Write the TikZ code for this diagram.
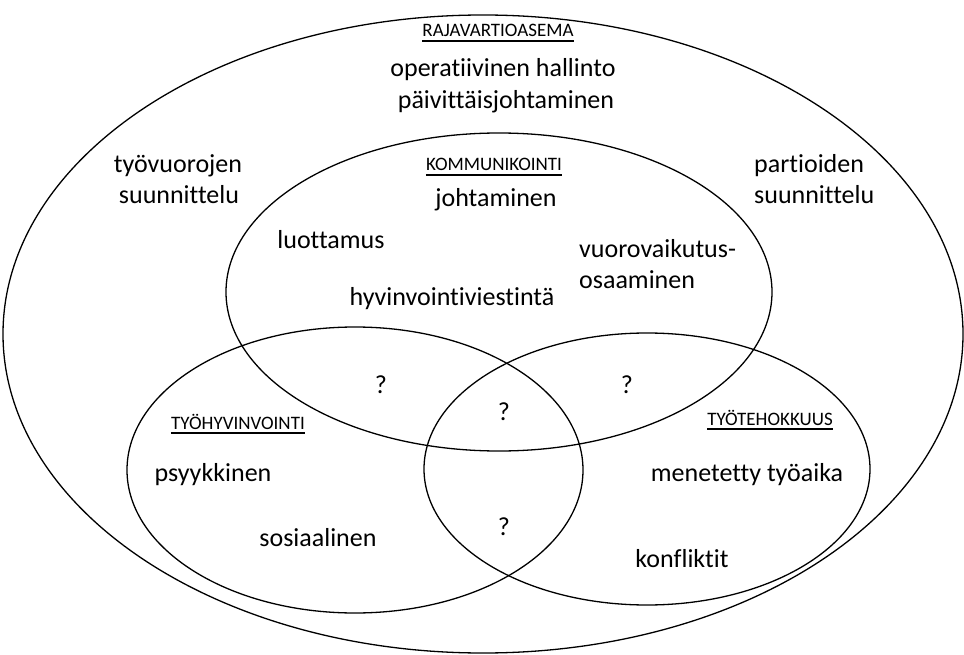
\documentclass[tikz,border=0pt]{standalone}
\usepackage{fontspec}
\setmainfont{Carlito}[Ligatures={NoCommon,NoContextual}]
\usetikzlibrary{shapes.geometric}

\tikzset{
  ring/.style={draw=black, line width=1.3pt, ellipse, inner sep=0pt},
  label/.style={inner sep=0pt, font=\fontsize{26}{30}\selectfont},
  heading/.style={inner sep=0pt, font=\fontsize{19}{22}\selectfont},
  rule/.style={line width=1.3pt}
}

\begin{document}
\begin{tikzpicture}[x=1pt,y=-1pt]
\useasboundingbox (0,0) rectangle (964,655);

% the four sets
\node[ring, minimum width=960pt, minimum height=638pt] (station) at (483,334) {};
\node[ring, minimum width=546pt, minimum height=318pt] (comm) at (499,292) {};
\node[ring, minimum width=456pt, minimum height=286pt] (wellbeing) at (355,470) {};
\node[ring, minimum width=446pt, minimum height=272pt] (efficiency) at (647,469) {};

% outer set: border station
\node[heading, anchor=base] (hStation) at (498,37) {RAJAVARTIOASEMA};
\draw[rule] ([yshift=-4pt]hStation.base west) -- ([yshift=-4pt]hStation.base east);
\node[label, anchor=base] (opHallinto) at (503,77) {operatiivinen hallinto};
\node[label, anchor=base] (paivittais) at (506,109) {päivittäisjohtaminen};
\node[label, anchor=base] (tyovuorojen) at (178,173) {työvuorojen};
\node[label, anchor=base] (suunnL) at (179,204) {suunnittelu};
\node[label, anchor=base west] (partioiden) at (754,173) {partioiden};
\node[label, anchor=base west] (suunnR) at (754,204) {suunnittelu};

% communication
\node[heading, anchor=base] (hComm) at (494,171) {KOMMUNIKOINTI};
\draw[rule] ([yshift=-4pt]hComm.base west) -- ([yshift=-4pt]hComm.base east);
\node[label, anchor=base] (johtaminen) at (496,207) {johtaminen};
\node[label, anchor=base] (luottamus) at (331,249) {luottamus};
\node[label, anchor=base west] (vuoro) at (579,258) {vuorovaikutus-};
\node[label, anchor=base west] (osaaminen) at (579,288) {osaaminen};
\node[label, anchor=base] (hyvinvointi) at (452,305) {hyvinvointiviestintä};

% intersections
\node[label, anchor=base] (q1) at (381,393) {?};
\node[label, anchor=base] (q2) at (504,420) {?};
\node[label, anchor=base] (q3) at (627,393) {?};
\node[label, anchor=base] (q4) at (504,535) {?};

% well-being at work
\node[heading, anchor=base] (hWell) at (238,429) {TYÖHYVINVOINTI};
\draw[rule] ([yshift=-4pt]hWell.base west) -- ([yshift=-4pt]hWell.base east);
\node[label, anchor=base] (psyykkinen) at (213,481) {psyykkinen};
\node[label, anchor=base] (sosiaalinen) at (318,546) {sosiaalinen};

% work efficiency
\node[heading, anchor=base] (hEff) at (770,425) {TYÖTEHOKKUUS};
\draw[rule] ([yshift=-4pt]hEff.base west) -- ([yshift=-4pt]hEff.base east);
\node[label, anchor=base] (menetetty) at (747,481) {menetetty työaika};
\node[label, anchor=base] (konfliktit) at (682,567) {konfliktit};
\end{tikzpicture}
\end{document}
